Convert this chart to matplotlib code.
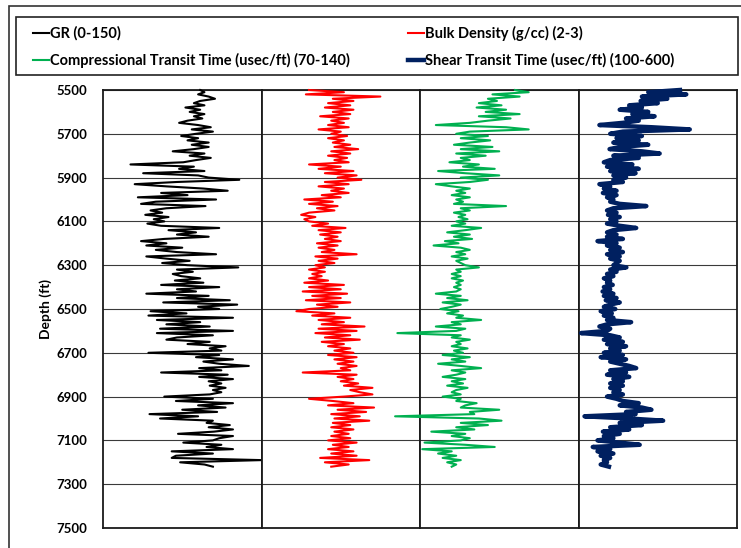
import numpy as np
import matplotlib.pyplot as plt
from matplotlib.patches import Rectangle
from matplotlib.lines import Line2D

plt.rcParams['font.family'] = ['Lato', 'DejaVu Sans']

# depth samples, every 10 ft
depth = np.arange(5500, 7230, 10)

# gamma ray (API)
gr = [92, 96, 90, 100, 106, 92, 86, 96, 78, 92,
      82, 96, 86, 94, 80, 72, 90, 102, 84, 104,
      88, 74, 90, 80, 100, 84, 100, 86, 66, 96,
      82, 102, 88, 76, 26, 86, 72, 96, 38, 90,
      100, 129, 70, 30, 60, 95, 118, 55, 80, 33,
      107, 50, 36, 97, 60, 45, 56, 40, 62, 48,
      58, 42, 55, 110, 62, 88, 70, 100, 58, 36,
      60, 41, 75, 50, 70, 107, 41, 60, 82, 56,
      80, 128, 70, 85, 66, 74, 92, 68, 95, 55,
      110, 70, 88, 41, 100, 70, 120, 57, 127, 90,
      110, 45, 79, 43, 123, 51, 92, 60, 101, 54,
      123, 51, 104, 70, 60, 101, 80, 116, 101, 112,
      43, 110, 88, 123, 95, 110, 138, 91, 112, 55,
      118, 91, 123, 100, 112, 101, 116, 104, 112, 101,
      58, 104, 69, 123, 90, 116, 75, 108, 44, 90,
      54, 104, 98, 120, 100, 123, 105, 71, 123, 110,
      104, 76, 112, 98, 123, 65, 104, 69, 65, 150,
      73, 96, 104]

# bulk density (g/cc)
rhob = [2.30, 2.52, 2.28, 2.75, 2.45, 2.58, 2.42, 2.56, 2.40, 2.58,
        2.45, 2.56, 2.37, 2.55, 2.44, 2.52, 2.42, 2.55, 2.36, 2.50,
        2.44, 2.54, 2.42, 2.52, 2.45, 2.56, 2.46, 2.61, 2.44, 2.56,
        2.42, 2.54, 2.46, 2.55, 2.30, 2.50, 2.36, 2.58, 2.40, 2.60,
        2.48, 2.63, 2.40, 2.55, 2.36, 2.52, 2.44, 2.55, 2.38, 2.50,
        2.27, 2.45, 2.30, 2.48, 2.35, 2.46, 2.30, 2.25, 2.34, 2.27,
        2.30, 2.42, 2.32, 2.53, 2.36, 2.50, 2.37, 2.48, 2.40, 2.50,
        2.35, 2.48, 2.36, 2.46, 2.38, 2.60, 2.34, 2.48, 2.36, 2.46,
        2.34, 2.40, 2.30, 2.40, 2.32, 2.38, 2.30, 2.42, 2.27, 2.52,
        2.30, 2.50, 2.26, 2.54, 2.32, 2.50, 2.28, 2.56, 2.35, 2.48,
        2.30, 2.22, 2.46, 2.32, 2.56, 2.36, 2.52, 2.38, 2.65, 2.36,
        2.60, 2.34, 2.56, 2.40, 2.62, 2.38, 2.52, 2.42, 2.56, 2.46,
        2.58, 2.42, 2.60, 2.46, 2.58, 2.48, 2.60, 2.50, 2.56, 2.26,
        2.60, 2.48, 2.58, 2.50, 2.61, 2.52, 2.70, 2.56, 2.62, 2.70,
        2.52, 2.30, 2.45, 2.58, 2.42, 2.71, 2.48, 2.66, 2.44, 2.62,
        2.46, 2.68, 2.45, 2.56, 2.44, 2.58, 2.46, 2.55, 2.44, 2.56,
        2.42, 2.60, 2.45, 2.55, 2.42, 2.58, 2.44, 2.60, 2.37, 2.68,
        2.40, 2.55, 2.44]

# compressional transit time (usec/ft)
dt = [112, 118, 102, 114, 100, 104, 96, 106, 95, 108,
      99, 114, 96, 110, 100, 92, 77, 108, 118, 92,
      86, 100, 88, 101, 92, 85, 102, 88, 105, 86,
      99, 88, 92, 83, 96, 89, 103, 78, 90, 105,
      88, 100, 92, 77, 84, 92, 86, 90, 84, 92,
      86, 89, 85, 108, 88, 92, 85, 90, 87, 91,
      86, 90, 84, 97, 90, 82, 92, 85, 93, 81,
      87, 76, 88, 92, 86, 90, 84, 91, 86, 88,
      90, 96, 86, 88, 84, 88, 84, 89, 86, 88,
      85, 88, 86, 77, 88, 82, 91, 80, 88, 84,
      79, 87, 82, 89, 86, 97, 84, 88, 77, 90,
      86, 60, 88, 84, 92, 86, 88, 84, 91, 85,
      89, 80, 92, 84, 90, 78, 88, 97, 84, 90,
      86, 80, 90, 84, 89, 82, 91, 86, 84, 88,
      80, 88, 86, 95, 90, 88, 105, 92, 94, 59,
      96, 106, 88, 100, 86, 94, 75, 90, 84, 92,
      88, 72, 90, 103, 71, 84, 78, 86, 80, 88,
      82, 86, 84]

# shear transit time (usec/ft)
dts = [420, 320, 440, 300, 380, 296, 350, 260, 300, 230,
       320, 270, 340, 250, 290, 240, 166, 330, 451, 240,
       200, 300, 220, 290, 210, 320, 230, 198, 300, 356,
       210, 290, 200, 180, 270, 190, 290, 200, 280, 210,
       250, 210, 240, 166, 200, 180, 220, 177, 220, 190,
       210, 200, 230, 314, 210, 190, 220, 193, 230, 200,
       220, 190, 230, 282, 210, 190, 220, 190, 240, 160,
       220, 190, 230, 200, 240, 190, 230, 200, 230, 220,
       210, 251, 200, 220, 190, 210, 180, 200, 190, 208,
       180, 200, 176, 210, 180, 220, 186, 230, 200, 180,
       216, 170, 205, 180, 210, 190, 266, 190, 166, 200,
       190, 108, 200, 230, 180, 240, 190, 250, 200, 230,
       180, 240, 170, 250, 200, 230, 260, 282, 200, 250,
       190, 260, 210, 240, 200, 240, 200, 230, 210, 240,
       190, 220, 240, 290, 230, 300, 330, 250, 280, 119,
       260, 367, 230, 300, 200, 260, 177, 230, 180, 210,
       160, 230, 293, 145, 200, 160, 210, 170, 200, 180,
       190, 170, 196]

depth_ticks = list(range(5500, 7501, 200))

tracks = [
    (gr, (0, 150), '#000000', 1.5, 'GR (0-150)'),
    (rhob, (2, 3), '#ff0000', 1.5, 'Bulk Density (g/cc) (2-3)'),
    (dt, (70, 140), '#00b050', 1.5, 'Compressional Transit Time (usec/ft) (70-140)'),
    (dts, (100, 600), '#002060', 3.2, 'Shear Transit Time (usec/ft) (100-600)'),
]

W, H = 741, 548
fig = plt.figure(figsize=(W / 100, H / 100), dpi=100)


def fx(x):
    return x / W


def fy(y):
    return 1 - y / H


# outer frame and legend box
fig.patches.append(Rectangle((fx(9), fy(580)), fx(780), 574 / H, transform=fig.transFigure,
                             fill=False, edgecolor='#333333', linewidth=1.2))
fig.patches.append(Rectangle((fx(16), fy(75)), fx(722), 58 / H, transform=fig.transFigure,
                             fill=False, edgecolor='#222222', linewidth=1.2))

left, right, top, bottom = 103, 737, 90, 528
tw = (right - left) / 4

for i, (vals, xlim, color, lw, label) in enumerate(tracks):
    ax = fig.add_axes([fx(left + i * tw), fy(bottom), tw / W, (bottom - top) / H])
    ax.plot(vals, depth, color=color, linewidth=lw, clip_on=False, zorder=3)
    ax.set_xlim(*xlim)
    ax.set_ylim(7500, 5500)
    ax.set_yticks(depth_ticks)
    ax.set_xticks([])
    ax.grid(axis='y', color='#3a3a3a', linewidth=0.8)
    ax.set_axisbelow(True)
    for sp in ax.spines.values():
        sp.set_color('#1a1a1a')
        sp.set_linewidth(1.3)
    ax.tick_params(axis='y', length=0, pad=11, labelsize=9.5)
    if i == 0:
        for t in ax.get_yticklabels():
            t.set_fontweight('bold')
    else:
        ax.tick_params(labelleft=False)

fig.text(fx(46), fy(309), 'Depth (ft)', rotation=90, ha='center', va='center',
         fontsize=10, fontweight='bold')

# legend entries
legend_pos = [(33, 33), (408, 33), (33, 60), (408, 60)]
for (x0, y0), (vals, xlim, color, lw, label) in zip(legend_pos, tracks):
    fig.add_artist(Line2D([fx(x0), fx(x0 + 16)], [fy(y0), fy(y0)], color=color,
                          linewidth=lw, transform=fig.transFigure))
    fig.text(fx(x0 + 17), fy(y0), label, ha='left', va='center', fontsize=10.5,
             fontweight='bold')

fig.savefig('out.png', dpi=100)
